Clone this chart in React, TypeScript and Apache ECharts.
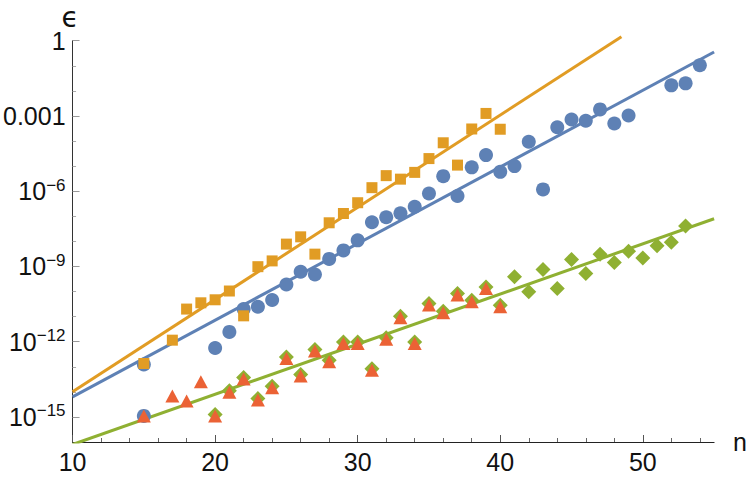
import React, { useEffect, useRef } from 'react';
import * as echarts from 'echarts';

const blueN = [15, 15, 20, 21, 22, 23, 24, 25, 26, 27, 28, 29, 30, 31, 32, 33, 34, 35, 36, 37, 38, 39, 40, 41, 42, 43, 44, 45, 46, 47, 48, 49, 52, 53, 54];
const blueExp = [-12.91, -14.96, -12.25, -11.61, -10.7, -10.61, -10.34, -9.72, -9.21, -9.32, -8.7, -8.36, -7.96, -7.24, -7.04, -6.88, -6.62, -6.09, -5.4, -6.19, -5.05, -4.56, -5.23, -5.0, -4.03, -5.93, -3.45, -3.14, -3.19, -2.74, -3.3, -2.98, -1.78, -1.7, -0.98];

const orangeN = [15, 17, 18, 19, 20, 21, 22, 23, 24, 25, 26, 27, 28, 29, 30, 31, 32, 33, 34, 35, 36, 37, 38, 39, 40];
const orangeExp = [-12.87, -11.94, -10.7, -10.45, -10.33, -9.98, -10.97, -9.01, -8.78, -8.11, -7.82, -8.51, -7.26, -6.89, -6.46, -5.86, -5.38, -5.52, -5.25, -4.7, -4.07, -4.96, -3.52, -2.9, -3.53];

const greenN = [20, 21, 22, 23, 24, 25, 26, 27, 28, 29, 30, 31, 32, 33, 34, 35, 36, 37, 38, 39, 40, 41, 42, 43, 44, 45, 46, 47, 48, 49, 50, 51, 52, 53];
const greenExp = [-14.9, -13.96, -13.43, -14.27, -13.78, -12.61, -13.31, -12.31, -12.74, -12.01, -12.01, -13.08, -11.84, -10.99, -12.01, -10.48, -10.79, -10.08, -10.35, -9.82, -10.55, -9.41, -10.01, -9.12, -9.88, -8.72, -9.28, -8.51, -8.84, -8.39, -8.66, -8.18, -8.04, -7.39];

const redN = [15, 17, 18, 19, 20, 21, 22, 23, 24, 25, 26, 27, 28, 29, 30, 31, 32, 33, 34, 35, 36, 37, 38, 39, 40];
const redExp = [-14.96, -14.17, -14.37, -13.6, -14.96, -14.02, -13.49, -14.33, -13.84, -12.67, -13.37, -12.37, -12.8, -12.07, -12.07, -13.14, -11.9, -11.05, -12.07, -10.54, -10.85, -10.14, -10.41, -9.88, -10.61];

// Fitted lines (end points)
const orangeFitN = [10, 48.5];
const orangeFitExp = [-14.0, 0.16];
const blueFitN = [10, 55];
const blueFitExp = [-14.2, -0.45];
const greenFitN = [10, 55];
const greenFitExp = [-16.1, -7.1];

// Ticks
const xMajorTicks = [10, 20, 30, 40, 50];
const xMinorTicks = [12, 14, 16, 18, 22, 24, 26, 28, 32, 34, 36, 38, 42, 44, 46, 48, 52, 54];
const yMajorTicks = [-15, -12, -9, -6, -3, 0];
const yMinorTicks = [-14, -13, -11, -10, -8, -7, -5, -4, -2, -1];

const BLUE = '#5E81B5';
const ORANGE = '#E19C24';
const GREEN = '#8FB032';
const RED = '#EB6235';

export default function App() {
  const ref = useRef<HTMLDivElement>(null);
  useEffect(() => {
    const chart = echarts.init(ref.current!, null, { renderer: 'svg' });
    const font = 'Liberation Sans, Arial, sans-serif';
    const pairs = (xs: number[], ys: number[]) => xs.map((x, i) => [x, ys[i]]);
    const yLabel = (v: number) => {
      if (v === 0) return '1';
      if (v === -3) return '0.001';
      return `{b|10}{s|\u2212${-v}}`;
    };
    chart.setOption({
      animation: false,
      grid: { left: 69, right: 31, top: 40.7, bottom: 36, containLabel: false },
      xAxis: [
        {
          type: 'value', min: 10, max: 55, position: 'bottom',
          axisLine: { onZero: false, lineStyle: { color: '#222', width: 1 } },
          axisTick: { inside: true, length: 7, customValues: xMajorTicks, lineStyle: { color: '#555' } },
          axisLabel: { customValues: xMajorTicks, fontSize: 25, color: '#111', margin: 7, fontFamily: font },
          splitLine: { show: false },
          name: 'n', nameLocation: 'end', nameGap: 19,
          nameTextStyle: { fontSize: 25, color: '#111', fontFamily: font, verticalAlign: 'middle' },
        },
        {
          type: 'value', min: 10, max: 55, position: 'bottom',
          axisLine: { show: false, onZero: false },
          axisTick: { inside: true, length: 4, customValues: xMinorTicks, lineStyle: { color: '#666' } },
          axisLabel: { show: false },
          splitLine: { show: false },
        },
      ],
      yAxis: [
        {
          type: 'value', min: -16, max: 0, position: 'left',
          axisLine: { onZero: false, lineStyle: { color: '#333', width: 1 } },
          axisTick: { inside: true, length: 7, customValues: yMajorTicks, lineStyle: { color: '#999' } },
          axisLabel: {
            customValues: yMajorTicks, fontSize: 25, color: '#111', margin: 7, fontFamily: font,
            formatter: yLabel,
            rich: {
              b: { fontSize: 25, lineHeight: 29, color: '#111', fontFamily: font },
              s: { fontSize: 17, lineHeight: 17, color: '#111', fontFamily: font, verticalAlign: 'top' },
            },
          },
          splitLine: { show: false },
        },
        {
          type: 'value', min: -16, max: 0, position: 'left',
          axisLine: { show: false, onZero: false },
          axisTick: { inside: true, length: 3.5, customValues: yMinorTicks, lineStyle: { color: '#aaa' } },
          axisLabel: { show: false },
          splitLine: { show: false },
        },
      ],
      graphic: [
        {
          type: 'text', x: 70, y: 17,
          style: { text: '\u03F5', fontSize: 28, fontFamily: 'DejaVu Sans', fill: '#111', align: 'center', verticalAlign: 'middle' },
        },
      ],
      series: [
        {
          type: 'line', data: pairs(orangeFitN, orangeFitExp), showSymbol: false, clip: false,
          lineStyle: { color: ORANGE, width: 3 }, z: 2, silent: true,
        },
        {
          type: 'line', data: pairs(blueFitN, blueFitExp), showSymbol: false, clip: false,
          lineStyle: { color: BLUE, width: 3 }, z: 2, silent: true,
        },
        {
          type: 'line', data: pairs(greenFitN, greenFitExp), showSymbol: false, clip: true,
          lineStyle: { color: GREEN, width: 3 }, z: 2, silent: true,
        },
        {
          type: 'scatter', data: pairs(blueN, blueExp), symbol: 'circle', symbolSize: 14,
          itemStyle: { color: BLUE, opacity: 1 }, z: 3,
        },
        {
          type: 'scatter', data: pairs(orangeN, orangeExp), symbol: 'rect', symbolSize: 11,
          itemStyle: { color: ORANGE, opacity: 1 }, z: 4,
        },
        {
          type: 'scatter', data: pairs(greenN, greenExp), symbol: 'diamond', symbolSize: 15,
          itemStyle: { color: GREEN, opacity: 1 }, z: 5,
        },
        {
          type: 'scatter', data: pairs(redN, redExp), symbol: 'triangle', symbolSize: [14, 13],
          itemStyle: { color: RED, opacity: 1 }, z: 6,
        },
      ],
    });
    return () => chart.dispose();
  }, []);
  return <div ref={ref} style={{ position: 'absolute', left: 0, top: 0, width: 750, height: 478 }} />;
}
